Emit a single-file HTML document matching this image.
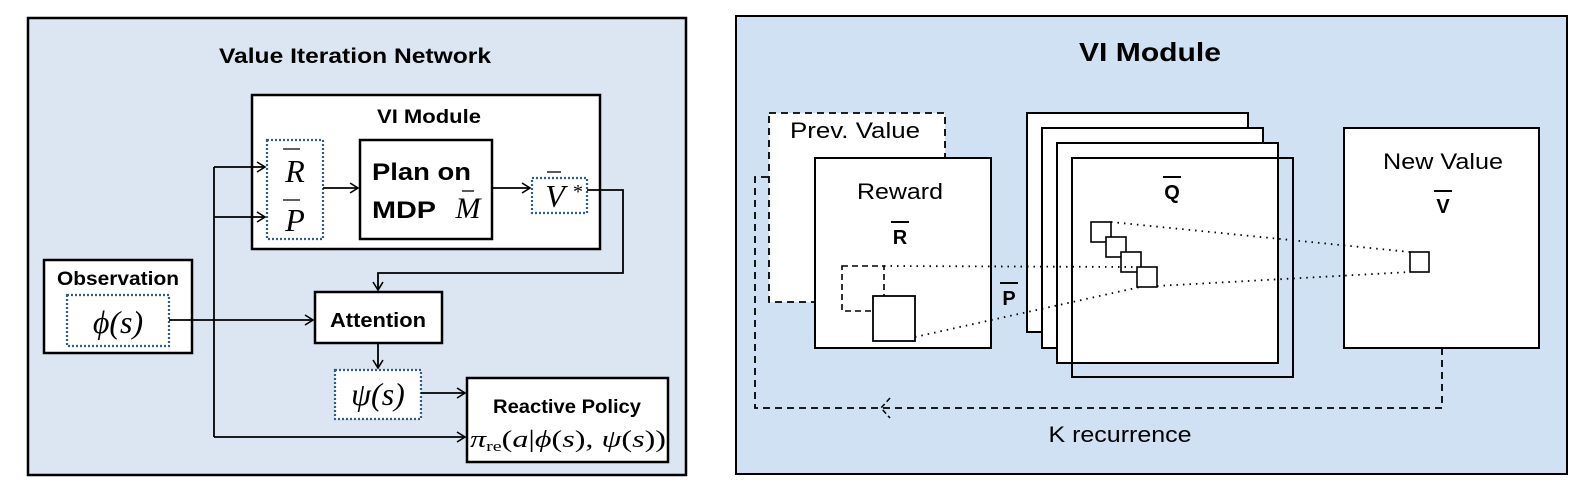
<!DOCTYPE html>
<html><head><meta charset="utf-8"><style>
html,body{margin:0;padding:0;background:#fff;}
svg{display:block;}
.b{font-family:"Liberation Sans",sans-serif;font-weight:bold;}
.r{font-family:"Liberation Sans",sans-serif;}
.m{font-family:"Liberation Serif",serif;font-style:italic;}
.mu{font-family:"Liberation Serif",serif;}
</style></head><body>
<svg width="1588" height="490" viewBox="0 0 1588 490" xmlns="http://www.w3.org/2000/svg">
<defs>
<marker id="ar" markerWidth="12" markerHeight="12" refX="10" refY="6" orient="auto" markerUnits="userSpaceOnUse">
<path d="M2,1 L10,6 L2,11" fill="none" stroke="#000" stroke-width="1.6"/></marker>
</defs>
<!-- LEFT PANEL -->
<rect x="28" y="18" width="658" height="457" fill="#dce6f2" stroke="#000" stroke-width="2.5"/>
<text x="355" y="63" class="b" font-size="21" text-anchor="middle" textLength="272" lengthAdjust="spacingAndGlyphs">Value Iteration Network</text>
<rect x="252" y="95" width="348" height="154" fill="#fff" stroke="#000" stroke-width="2.5"/>
<text x="429" y="123" class="b" font-size="19" text-anchor="middle" textLength="104" lengthAdjust="spacingAndGlyphs">VI Module</text>
<rect x="267" y="140" width="56" height="99" fill="#fff" stroke="#2e5c8f" stroke-width="2.2" stroke-dasharray="2,2"/>
<text x="295" y="182" class="m" font-size="32" text-anchor="middle">R</text>
<line x1="283" y1="149" x2="300" y2="149" stroke="#000" stroke-width="1.3"/>
<text x="295" y="231" class="m" font-size="32" text-anchor="middle">P</text>
<line x1="283" y1="200" x2="300" y2="200" stroke="#000" stroke-width="1.3"/>
<rect x="360" y="140" width="132" height="99" fill="#fff" stroke="#000" stroke-width="2.5"/>
<text x="372" y="180" class="b" font-size="24" textLength="99" lengthAdjust="spacingAndGlyphs">Plan on</text>
<text x="372" y="218" class="b" font-size="24" textLength="64" lengthAdjust="spacingAndGlyphs">MDP</text>
<text x="468" y="218" class="m" font-size="30" text-anchor="middle">M</text>
<line x1="462" y1="191" x2="474" y2="191" stroke="#000" stroke-width="1.3"/>
<rect x="532" y="178" width="55" height="35" fill="#fff" stroke="#2e5c8f" stroke-width="2.2" stroke-dasharray="2,2"/>
<text x="555" y="207" class="m" font-size="32" text-anchor="middle">V</text>
<line x1="547" y1="172" x2="561" y2="172" stroke="#000" stroke-width="1.3"/>
<text x="578" y="198" class="mu" font-size="20" text-anchor="middle">*</text>
<rect x="44" y="260" width="148" height="93" fill="#fff" stroke="#000" stroke-width="2.5"/>
<text x="118" y="285" class="b" font-size="19" text-anchor="middle" textLength="122" lengthAdjust="spacingAndGlyphs">Observation</text>
<rect x="67" y="295" width="102" height="51" fill="#fff" stroke="#2e5c8f" stroke-width="2.2" stroke-dasharray="2,2"/>
<text x="118" y="333" class="m" font-size="32" text-anchor="middle">ϕ(s)</text>
<rect x="315" y="292" width="127" height="51" fill="#fff" stroke="#000" stroke-width="2.5"/>
<text x="378" y="327" class="b" font-size="20" text-anchor="middle" textLength="96" lengthAdjust="spacingAndGlyphs">Attention</text>
<rect x="335" y="370" width="86" height="49" fill="#fff" stroke="#2e5c8f" stroke-width="2.2" stroke-dasharray="2,2"/>
<text x="378" y="405" class="m" font-size="32" text-anchor="middle">ψ(s)</text>
<rect x="467" y="378" width="201" height="84" fill="#fff" stroke="#000" stroke-width="2.5"/>
<text x="567" y="413" class="b" font-size="19" text-anchor="middle" textLength="148" lengthAdjust="spacingAndGlyphs">Reactive Policy</text>
<text x="568" y="447" class="mu" font-size="24" text-anchor="middle" textLength="196" lengthAdjust="spacingAndGlyphs"><tspan font-style="italic">π</tspan><tspan font-size="15" dy="4">re</tspan><tspan dy="-4">(</tspan><tspan font-style="italic">a</tspan>|<tspan font-style="italic">ϕ</tspan>(<tspan font-style="italic">s</tspan>), <tspan font-style="italic">ψ</tspan>(<tspan font-style="italic">s</tspan>))</text>
<g stroke="#000" stroke-width="1.8" fill="none">
<line x1="214" y1="167" x2="214" y2="437"/>
<line x1="214" y1="167" x2="265" y2="167" marker-end="url(#ar)"/>
<line x1="214" y1="217" x2="265" y2="217" marker-end="url(#ar)"/>
<line x1="323" y1="188" x2="358" y2="188" marker-end="url(#ar)"/>
<line x1="492" y1="188" x2="530" y2="188" marker-end="url(#ar)"/>
<polyline points="587,190 623,190 623,273 378,273 378,290" marker-end="url(#ar)"/>
<line x1="169" y1="320" x2="313" y2="320" marker-end="url(#ar)"/>
<line x1="378" y1="343" x2="378" y2="368" marker-end="url(#ar)"/>
<line x1="421" y1="393" x2="465" y2="393" marker-end="url(#ar)"/>
<line x1="214" y1="437" x2="465" y2="437" marker-end="url(#ar)"/>
</g>
<!-- RIGHT PANEL -->
<rect x="736" y="16" width="831" height="458" fill="#cfe1f2" stroke="#000" stroke-width="2"/>
<text x="1150" y="61" class="b" font-size="26" text-anchor="middle" textLength="142" lengthAdjust="spacingAndGlyphs">VI Module</text>
<polyline points="1442,348 1442,408 755,408 755,177 769,177" fill="none" stroke="#000" stroke-width="1.8" stroke-dasharray="7,5"/>
<path d="M890,398 L881,408 L890,418" fill="none" stroke="#000" stroke-width="1.5" stroke-dasharray="5,3"/>
<rect x="769" y="113" width="176" height="189" fill="#fff" stroke="#000" stroke-width="1.8" stroke-dasharray="7,5"/>
<text x="855" y="138" class="r" font-size="22" text-anchor="middle" textLength="130" lengthAdjust="spacingAndGlyphs">Prev. Value</text>
<rect x="815" y="158" width="176" height="190" fill="#fff" stroke="#000" stroke-width="2"/>
<text x="900" y="199" class="r" font-size="22" text-anchor="middle" textLength="86" lengthAdjust="spacingAndGlyphs">Reward</text>
<text x="900" y="244" class="b" font-size="20" text-anchor="middle">R</text>
<line x1="891" y1="222" x2="909" y2="222" stroke="#000" stroke-width="2"/>
<rect x="842" y="266" width="42" height="45" fill="none" stroke="#000" stroke-width="1.6" stroke-dasharray="6,4"/>
<rect x="873" y="296" width="42" height="45" fill="#fff" stroke="#000" stroke-width="1.8"/>
<text x="1009" y="305" class="b" font-size="20" text-anchor="middle">P</text>
<line x1="1000" y1="283" x2="1018" y2="283" stroke="#000" stroke-width="2"/>
<rect x="1027" y="113" width="221" height="219" fill="#fff" stroke="#000" stroke-width="2"/>
<rect x="1042" y="128" width="221" height="220" fill="#fff" stroke="#000" stroke-width="2"/>
<rect x="1057" y="143" width="221" height="220" fill="#fff" stroke="#000" stroke-width="2"/>
<rect x="1072" y="158" width="221" height="219" fill="none" stroke="#000" stroke-width="2"/>
<text x="1172" y="199" class="b" font-size="20" text-anchor="middle">Q</text>
<line x1="1163" y1="177" x2="1181" y2="177" stroke="#000" stroke-width="2"/>
<rect x="1344" y="128" width="195" height="220" fill="#fff" stroke="#000" stroke-width="2"/>
<text x="1443" y="169" class="r" font-size="22" text-anchor="middle" textLength="120" lengthAdjust="spacingAndGlyphs">New Value</text>
<text x="1443" y="213" class="b" font-size="20" text-anchor="middle">V</text>
<line x1="1434" y1="191" x2="1452" y2="191" stroke="#000" stroke-width="2"/>
<rect x="1410" y="252" width="19" height="20" fill="#fff" stroke="#000" stroke-width="1.6"/>
<g fill="#fff" stroke="#000" stroke-width="1.6">
<rect x="1091" y="222" width="20" height="20"/>
<rect x="1106" y="237" width="20" height="20"/>
<rect x="1121" y="252" width="20" height="20"/>
<rect x="1137" y="267" width="20" height="20"/>
</g>
<g stroke="#000" stroke-width="1.8" stroke-dasharray="1.5,5" fill="none">
<line x1="884" y1="266" x2="1137" y2="267"/>
<line x1="915" y1="337" x2="1140" y2="287"/>
<line x1="1111" y1="222" x2="1410" y2="252"/>
<line x1="1157" y1="286" x2="1410" y2="272"/>
</g>
<text x="1120" y="442" class="r" font-size="22" text-anchor="middle" textLength="143" lengthAdjust="spacingAndGlyphs">K recurrence</text>
</svg>
</body></html>
